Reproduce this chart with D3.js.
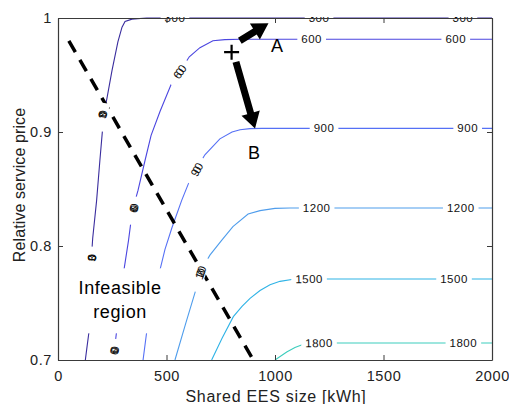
<!DOCTYPE html>
<html>
<head>
<meta charset="utf-8">
<script src="https://cdn.jsdelivr.net/npm/d3@7"></script>
<style>
  body { margin: 0; background: #fff; }
  text { font-family: "Liberation Sans", Arial, Helvetica, sans-serif; }
</style>
</head>
<body>
<svg id="chart" width="509" height="404"></svg>
<script>
// ---- data -------------------------------------------------------------
// Contour levels of the cost surface and their line colours
const levels = [300, 600, 900, 1200, 1500, 1800];
const levelColors = ["#3a2d9e", "#4b46e0", "#5570f5", "#4f9dec", "#2fb3e6", "#3ccdbd"];

// Each contour as [shared EES size (kWh), relative service price]
const contour300 = [[126,0.700],[134,0.712],[143,0.725],[147,0.753],[150,0.779],[160,0.807],[178,0.840],[193,0.875],[207,0.906],[217,0.921],[227,0.931],[249,0.954],[276,0.979],[295,0.992],[309,0.997],[341,0.999],[409,1.0],[2000,1.0]];
const contour600 = [[253,0.700],[258,0.706],[270,0.725],[286,0.753],[304,0.779],[325,0.805],[340,0.827],[350,0.836],[369,0.849],[401,0.875],[429,0.897],[470,0.918],[524,0.943],[558,0.952],[605,0.966],[654,0.974],[714,0.980],[769,0.981],[839,0.9813],[2000,0.9813]];
const contour900 = [[392,0.700],[409,0.725],[433,0.753],[470,0.779],[493,0.797],[525,0.816],[570,0.840],[608,0.858],[636,0.867],[677,0.880],[746,0.894],[802,0.900],[839,0.902],[885,0.903],[940,0.9032],[2000,0.9032]];
const contour1200 = [[539,0.700],[590,0.733],[639,0.764],[654,0.773],[673,0.783],[700,0.792],[754,0.805],[806,0.817],[876,0.828],[931,0.831],[1000,0.833],[1069,0.8333],[2000,0.8333]];
const contour1500 = [[708,0.700],[756,0.719],[808,0.738],[848,0.747],[885,0.754],[931,0.761],[977,0.766],[1023,0.769],[1084,0.7708],[1161,0.7711],[2000,0.7711]];
const contour1800 = [[1000,0.700],[1054,0.707],[1092,0.711],[1128,0.7136],[1184,0.7147],[1253,0.7149],[2000,0.7149]];
const contours = [contour300, contour600, contour900, contour1200, contour1500, contour1800];

// Inline label anchors for each contour
const labels300 = [[155,0.787],[204,0.913],[539,1.0],[1203,1.0],[1866,1.0]];
const labels600 = [[258,0.706],[347,0.831],[558,0.952],[1169,0.9813],[1833,0.9813]];
const labels900 = [[636,0.866],[1226,0.9032],[1888,0.9032]];
const labels1200 = [[654,0.775],[1192,0.8333],[1856,0.8333]];
const labels1500 = [[1157,0.7711],[1825,0.7711]];
const labels1800 = [[1203,0.7149],[1868,0.7149]];
const contourLabels = [labels300, labels600, labels900, labels1200, labels1500, labels1800];

// Feasibility boundary (dashed)
const feasibleBoundary = [[50,0.98],[900,0.70]];

// Operating point and the two moves from it
const operatingPoint = [800, 0.97];
const arrowA = [[838,0.980],[970,0.9955]];
const arrowB = [[820,0.9615],[908,0.903]];
const pointLabels = [{text:"A", at:[1009,0.976]}, {text:"B", at:[903,0.882]}];
const regionLabel = {lines:["Infeasible","region"], at:[286,0.762]};

// Axes
const xDomain = [0, 2000];
const yDomain = [0.7, 1.0];
const xTicks = [0, 500, 1000, 1500, 2000];
const yTicks = [0.7, 0.8, 0.9, 1.0];
const yTickLabels = ["0.7", "0.8", "0.9", "1"];
const xTitle = "Shared EES size [kWh]";
const yTitle = "Relative service price";

// ---- layout -----------------------------------------------------------
const svg = d3.select("#chart");
const plot = {left: 58, right: 492, top: 18, bottom: 360};
const x = d3.scaleLinear().domain(xDomain).range([plot.left, plot.right]);
const y = d3.scaleLinear().domain(yDomain).range([plot.bottom, plot.top]);

svg.append("defs").append("clipPath").attr("id", "plotClip")
  .append("rect")
  .attr("x", plot.left).attr("y", plot.top - 1)
  .attr("width", plot.right - plot.left).attr("height", plot.bottom - plot.top + 2);

const g = svg.append("g").attr("clip-path", "url(#plotClip)");
const line = d3.line().x(d => x(d[0])).y(d => y(d[1]));

// contour lines
contours.forEach((c, i) => {
  g.append("path")
    .attr("d", line(c))
    .attr("fill", "none")
    .attr("stroke", levelColors[i])
    .attr("stroke-width", 1.1);
});

// dashed feasibility boundary
g.append("path")
  .attr("d", line(feasibleBoundary))
  .attr("fill", "none")
  .attr("stroke", "#000")
  .attr("stroke-width", 3.5)
  .attr("stroke-dasharray", "13,9");

// contour labels, oriented along the local segment of the contour
const labelFont = 11.5, labelSpacing = 0.5;
function localAngle(c, px, py) {
  let best = Infinity, ang = 0;
  for (let k = 0; k < c.length - 1; k++) {
    const x0 = x(c[k][0]), y0 = y(c[k][1]), x1 = x(c[k+1][0]), y1 = y(c[k+1][1]);
    const dx = x1 - x0, dy = y1 - y0, L2 = dx*dx + dy*dy || 1;
    let t = ((px - x0)*dx + (py - y0)*dy) / L2;
    t = Math.max(0, Math.min(1, t));
    const qx = x0 + t*dx, qy = y0 + t*dy;
    const dd = (px-qx)*(px-qx) + (py-qy)*(py-qy);
    if (dd < best) { best = dd; ang = Math.atan2(dy, dx); }
  }
  if (ang > Math.PI/2) ang -= Math.PI;
  if (ang < -Math.PI/2) ang += Math.PI;
  return ang;
}

contourLabels.forEach((labs, i) => {
  const txt = String(levels[i]);
  const adv = 0.556 * labelFont + labelSpacing;
  const natural = txt.length * adv;
  labs.forEach(p => {
    const px = x(p[0]), py = y(p[1]);
    const a = localAngle(contours[i], px, py);
    const deg = a * 180 / Math.PI;
    const squeeze = Math.abs(Math.cos(a));
    const lg = g.append("g").attr("transform", `translate(${px},${py}) rotate(${deg})`);
    lg.append("rect")
      .attr("x", -natural/2 - 4).attr("y", -5.5)
      .attr("width", natural + 8).attr("height", 11)
      .attr("fill", "#fff");
    lg.append("text")
      .attr("text-anchor", "middle")
      .attr("dy", "0.36em")
      .attr("font-size", labelFont)
      .attr("letter-spacing", labelSpacing - (1 - squeeze) * adv)
      .attr("fill", "#111")
      .text(txt);
  });
});

// region label on a white panel
const rl = svg.append("g")
  .attr("transform", `translate(${x(regionLabel.at[0])},${y(regionLabel.at[1])})`);
rl.append("rect").attr("x", -45).attr("y", -21).attr("width", 90).attr("height", 65).attr("fill", "#fff");
rl.selectAll("text").data(regionLabel.lines).join("text")
  .attr("text-anchor", "middle")
  .attr("y", (d, k) => 5 + k * 24)
  .attr("font-size", 18)
  .attr("letter-spacing", 0.6)
  .attr("fill", "#000")
  .text(d => d);

// arrows
function arrowPath(a) {
  const x0 = x(a[0][0]), y0 = y(a[0][1]), x1 = x(a[1][0]), y1 = y(a[1][1]);
  const L = Math.hypot(x1 - x0, y1 - y0);
  const ux = (x1 - x0) / L, uy = (y1 - y0) / L, nx = -uy, ny = ux;
  const shaftW = 7, headL = 16, headW = 19;
  const bx = x1 - ux * headL, by = y1 - uy * headL;
  const pts = [
    [x0 + nx*shaftW/2, y0 + ny*shaftW/2],
    [bx + nx*shaftW/2, by + ny*shaftW/2],
    [bx + nx*headW/2, by + ny*headW/2],
    [x1, y1],
    [bx - nx*headW/2, by - ny*headW/2],
    [bx - nx*shaftW/2, by - ny*shaftW/2],
    [x0 - nx*shaftW/2, y0 - ny*shaftW/2]
  ];
  return "M" + pts.map(p => p.join(",")).join("L") + "Z";
}
[arrowA, arrowB].forEach(a => {
  svg.append("path").attr("d", arrowPath(a)).attr("fill", "#000");
});

// operating point marker
const ox = x(operatingPoint[0]), oy = y(operatingPoint[1]);
svg.append("path")
  .attr("d", `M${ox-7.5},${oy}H${ox+7.5}M${ox},${oy-7.5}V${oy+7.5}`)
  .attr("stroke", "#000").attr("stroke-width", 2.2);

svg.selectAll("text.pt").data(pointLabels).join("text")
  .attr("class", "pt")
  .attr("x", d => x(d.at[0])).attr("y", d => y(d.at[1]))
  .attr("text-anchor", "middle").attr("dy", "0.36em")
  .attr("font-size", 18)
  .attr("fill", "#000")
  .text(d => d.text);

// ---- axes (drawn last so the box sits on top) ------------------------
function styleAxis(sel) {
  sel.selectAll("path.domain").attr("stroke", "#3a3a3a").attr("stroke-width", 1.2);
  sel.selectAll(".tick line").attr("stroke", "#3a3a3a").attr("stroke-width", 1);
  sel.selectAll(".tick text")
    .attr("fill", "#222")
    .attr("font-size", 14.5)
    .attr("letter-spacing", 0.6)
    .attr("font-family", "'Liberation Sans', Arial, sans-serif");
}

svg.append("g").attr("transform", `translate(0,${plot.bottom})`)
  .call(d3.axisBottom(x).tickValues(xTicks).tickSizeInner(-5).tickSizeOuter(0).tickPadding(11).tickFormat(d3.format("d")))
  .call(styleAxis);
svg.append("g").attr("transform", `translate(${plot.left},0)`)
  .call(d3.axisLeft(y).tickValues(yTicks).tickSizeInner(-5).tickSizeOuter(0).tickPadding(6)
        .tickFormat((d, k) => yTickLabels[k]))
  .call(styleAxis);
svg.append("g").attr("transform", `translate(0,${plot.top})`)
  .call(d3.axisTop(x).tickValues(xTicks).tickSizeInner(-5).tickSizeOuter(0).tickFormat(""))
  .call(styleAxis);
svg.append("g").attr("transform", `translate(${plot.right},0)`)
  .call(d3.axisRight(y).tickValues(yTicks).tickSizeInner(-5).tickSizeOuter(0).tickFormat(""))
  .call(styleAxis);

// axis titles
svg.append("text")
  .attr("x", (plot.left + plot.right) / 2 + 1).attr("y", 402)
  .attr("text-anchor", "middle")
  .attr("font-size", 16).attr("letter-spacing", 0.7)
  .attr("fill", "#222")
  .text(xTitle);
svg.append("text")
  .attr("transform", `translate(25,${(plot.top + plot.bottom) / 2 - 4}) rotate(-90)`)
  .attr("text-anchor", "middle")
  .attr("font-size", 16).attr("letter-spacing", 0.1)
  .attr("fill", "#222")
  .text(yTitle);
</script>
</body>
</html>
